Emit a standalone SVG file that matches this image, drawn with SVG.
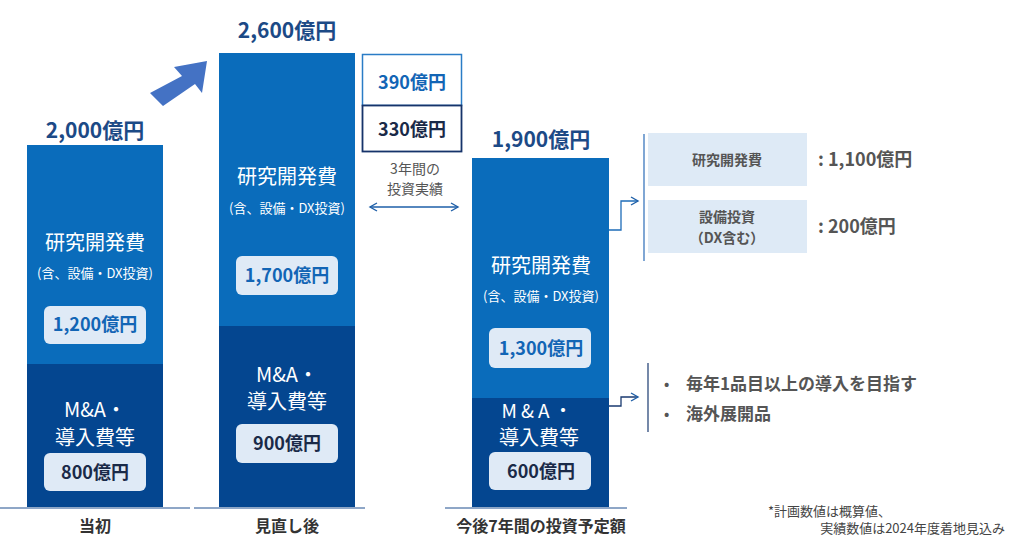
<svg xmlns="http://www.w3.org/2000/svg" width="1010" height="542" viewBox="0 0 1010 542">
<style>
text{font-family:"Noto Sans CJK JP","Noto Sans",sans-serif}
.lt{fill:#0a6cbb}.dk{fill:#044690}
.w{fill:#fff;text-anchor:middle}
.tot{fill:#1c4a86;font-weight:bold;font-size:21px;text-anchor:middle}
.pill{fill:#dfeaf6}
.pt{font-weight:bold;font-size:18px;text-anchor:middle}
.cap{fill:#333;font-weight:bold;font-size:16px;text-anchor:middle}
.g{fill:#555;font-weight:bold}
</style>
<defs><marker id="ah" markerWidth="10" markerHeight="10" refX="8" refY="5" orient="auto-start-reverse" markerUnits="userSpaceOnUse"><path d="M1,1 L8,5 L1,9" fill="none" stroke="#1e5fa8" stroke-width="1.4"/></marker></defs>
<g id="bar1">
<text x="95" y="138" class="tot">2,000億円</text>
<rect x="27" y="145" width="136" height="220" class="lt"/>
<rect x="27" y="364" width="136" height="143" class="dk"/>
<text x="95" y="250" class="w" font-size="20">研究開発費</text>
<text x="95" y="278" class="w" font-size="13">(含、設備・DX投資)</text>
<rect x="44" y="306" width="102" height="38" rx="6" class="pill"/>
<text x="95" y="331" class="pt" fill="#1265b5">1,200億円</text>
<text x="95" y="417" class="w" font-size="20">M&amp;A・</text>
<text x="95" y="445" class="w" font-size="20">導入費等</text>
<rect x="44" y="453" width="102" height="38" rx="6" class="pill"/>
<text x="95" y="479" class="pt" fill="#1a2a48">800億円</text>
<text x="95" y="532" class="cap">当初</text>
</g>
<g id="bar2">
<text x="287" y="38" class="tot">2,600億円</text>
<rect x="219" y="53" width="136" height="274" class="lt"/>
<rect x="219" y="326" width="136" height="181" class="dk"/>
<text x="287" y="184" class="w" font-size="20">研究開発費</text>
<text x="287" y="213" class="w" font-size="13">(含、設備・DX投資)</text>
<rect x="236" y="256" width="102" height="39" rx="6" class="pill"/>
<text x="287" y="282" class="pt" fill="#1265b5">1,700億円</text>
<text x="287" y="382" class="w" font-size="20">M&amp;A・</text>
<text x="287" y="409" class="w" font-size="20">導入費等</text>
<rect x="236" y="424" width="102" height="39" rx="6" class="pill"/>
<text x="287" y="450" class="pt" fill="#1a2a48">900億円</text>
<text x="287" y="532" class="cap">見直し後</text>
</g>
<g id="extra">
<rect x="362.5" y="54.5" width="99" height="51" fill="#fff" stroke="#2a7cc6" stroke-width="1.5"/>
<rect x="362.5" y="105.5" width="99" height="46" fill="#fff" stroke="#16336a" stroke-width="1.8"/>
<text x="412" y="89" class="pt" font-size="15" fill="#1265b5">390億円</text>
<text x="412" y="136" class="pt" font-size="15" fill="#1a2a48">330億円</text>
<text x="415" y="174" text-anchor="middle" font-size="14" fill="#555">3年間の</text>
<text x="415" y="194" text-anchor="middle" font-size="14" fill="#555">投資実績</text>
</g>
<g id="bar3">
<text x="541" y="147" class="tot">1,900億円</text>
<rect x="472" y="158" width="137" height="241" class="lt"/>
<rect x="472" y="398" width="137" height="109" class="dk"/>
<text x="541" y="273" class="w" font-size="20">研究開発費</text>
<text x="541" y="301" class="w" font-size="13">(含、設備・DX投資)</text>
<rect x="489" y="328" width="102" height="40" rx="6" class="pill"/>
<text x="541" y="355" class="pt" fill="#1265b5">1,300億円</text>
<text x="539" y="418" class="w" font-size="19" letter-spacing="4">M&amp;A・</text>
<text x="539" y="445" class="w" font-size="20">導入費等</text>
<rect x="489" y="452" width="102" height="38" rx="6" class="pill"/>
<text x="541" y="478" class="pt" fill="#1a2a48">600億円</text>
<text x="541" y="532" class="cap">今後7年間の投資予定額</text>
</g>
<g id="detail1">
<rect x="648" y="133" width="159" height="53" fill="#deeaf6"/>
<rect x="648" y="200" width="159" height="53" fill="#deeaf6"/>
<text x="727" y="165" text-anchor="middle" font-size="14" class="g">研究開発費</text>
<text x="727" y="222" text-anchor="middle" font-size="14" class="g">設備投資</text>
<text x="727" y="243" text-anchor="middle" font-size="14" class="g">（DX含む）</text>
<text x="818" y="166" font-size="18" class="g">: 1,100億円</text>
<text x="818" y="233" font-size="18" class="g">: 200億円</text>
</g>
<g id="detail2">
<text x="664" y="389" font-size="14" class="g">•</text>
<text x="664" y="419" font-size="14" class="g">•</text>
<text x="686" y="390" font-size="17" class="g">毎年1品目以上の導入を目指す</text>
<text x="686" y="420" font-size="17" class="g">海外展開品</text>
</g>
<g id="note">
<text x="768" y="516" font-size="13" fill="#444">*計画数値は概算値、</text>
<text x="1005" y="533" text-anchor="end" font-size="13" fill="#444">実績数値は2024年度着地見込み</text>
</g>
<g id="connectors" fill="none">
<path d="M0,508 H190 M194,508 H365 M445,508 H627" stroke="#1f4f8f" stroke-width="1"/>
<path d="M370,207 H458" stroke="#1e5fa8" stroke-width="1.4" marker-end="url(#ah)" marker-start="url(#ah)"/>
<path d="M644,134 V261" stroke="#2a6cb8" stroke-width="1.2"/>
<path d="M648,363 V432" stroke="#1a3a70" stroke-width="1.2"/>
<path d="M609,230 H621 V201 H638" stroke="#1e6cb8" stroke-width="1.3" marker-end="url(#ah)"/>
<path d="M609,406 H621 V397 H638" stroke="#1a3a70" stroke-width="1.3" marker-end="url(#ah)"/>
<polygon points="150,93 163,106 195,84 202,93 207,61 174,67 182,76" fill="#4472c4"/>
</g>
</svg>
